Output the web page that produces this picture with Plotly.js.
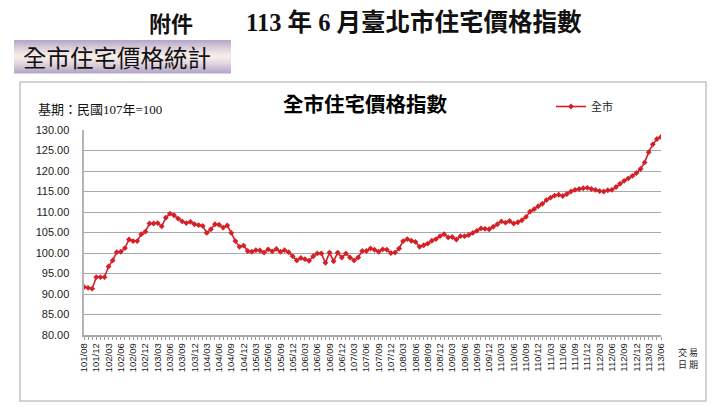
<!DOCTYPE html>
<html>
<head>
<meta charset="utf-8">
<script src="https://cdn.plot.ly/plotly-3.0.1.min.js"></script>
<style>
html,body{margin:0;padding:0;background:#fff;}
#chart{width:722px;height:408px;}
</style>
</head>
<body>
<div id="chart"></div>
<script>
// Categories (transaction month, ROC year/month)
const months = [
  "101/08","101/10","101/11","101/12",
  "102/01","102/02","102/03","102/04","102/05","102/06","102/07","102/08","102/09","102/10","102/11","102/12",
  "103/01","103/02","103/03","103/04","103/05","103/06","103/07","103/08","103/09","103/10","103/11","103/12",
  "104/01","104/02","104/03","104/04","104/05","104/06","104/07","104/08","104/09","104/10","104/11","104/12",
  "105/01","105/02","105/03","105/04","105/05","105/06","105/07","105/08","105/09","105/10","105/11","105/12",
  "106/01","106/02","106/03","106/04","106/05","106/06","106/07","106/08","106/09","106/10","106/11","106/12",
  "107/01","107/02","107/03","107/04","107/05","107/06","107/07","107/08","107/09","107/10","107/11","107/12",
  "108/01","108/02","108/03","108/04","108/05","108/06","108/07","108/08","108/09","108/10","108/11","108/12",
  "109/01","109/02","109/03","109/04","109/05","109/06","109/07","109/08","109/09","109/10","109/11","109/12",
  "110/01","110/02","110/03","110/04","110/05","110/06","110/07","110/08","110/09","110/10","110/11","110/12",
  "111/01","111/02","111/03","111/04","111/05","111/06","111/07","111/08","111/09","111/10","111/11","111/12",
  "112/01","112/02","112/03","112/04","112/05","112/06","112/07","112/08","112/09","112/10","112/11","112/12",
  "113/01","113/02","113/03","113/04","113/05","113/06"
];

// Series: 全市 housing price index (base 107 = 100)
const cityIndex = [
  91.7,91.5,91.3,94.1,94.1,94.1,96.7,98.2,100.2,100.3,
  101.2,103.3,102.9,102.9,104.6,105.2,107.2,107.2,107.3,106.5,
  108.6,109.6,109.2,108.4,107.7,107.3,107.6,107.0,106.8,106.6,
  104.9,105.8,107.0,106.9,106.2,106.7,104.9,102.9,101.5,101.8,
  100.5,100.3,100.7,100.6,100.1,100.9,100.4,101.0,100.3,100.7,
  100.2,99.2,98.2,98.8,98.5,98.1,99.2,99.9,99.9,97.6,
  100.1,98.0,100.1,98.9,99.9,98.9,98.2,98.9,100.5,100.5,
  101.1,100.8,100.3,100.9,100.8,100.0,100.1,101.1,102.9,103.4,
  103.0,102.7,101.5,101.9,102.3,103.0,103.4,104.1,104.6,103.8,
  103.9,103.3,104.1,104.1,104.4,104.9,105.4,106.0,105.9,105.8,
  106.4,107.0,107.7,107.4,107.8,107.2,107.5,108.0,108.8,110.1,
  110.7,111.4,112.0,112.9,113.5,114.0,114.2,113.9,114.4,115.0,
  115.4,115.6,115.8,115.9,115.6,115.4,115.1,115.0,115.3,115.4,
  116.1,116.9,117.6,118.2,118.8,119.5,120.5,122.1,124.6,126.5,
  127.8,128.3
];

// Tick labels shown on the x axis
const tickLabels = [
  "101/08","101/12",
  "102/03","102/06","102/09","102/12",
  "103/03","103/06","103/09","103/12",
  "104/03","104/06","104/09","104/12",
  "105/03","105/06","105/09","105/12",
  "106/03","106/06","106/09","106/12",
  "107/03","107/06","107/09","107/12",
  "108/03","108/06","108/09","108/12",
  "109/03","109/06","109/09","109/12",
  "110/03","110/06","110/09","110/12",
  "111/03","111/06","111/09","111/12",
  "112/03","112/06","112/09","112/12",
  "113/03","113/06"
];

const yTicks = [80,85,90,95,100,105,110,115,120,125,130];

// pixel -> paper helpers
const PL = 84, PR = 661, PT = 130, PB = 335, W = 722, H = 408;
const px = X => (X - PL) / (PR - PL);
const py = Y => (PB - Y) / (PB - PT);

const serif = '"Liberation Serif","Noto Sans CJK TC",serif';
const cjk = '"Noto Sans CJK TC","Liberation Serif",serif';
const sans = '"Liberation Sans",Arial,sans-serif';

// gradient title box as bands
const shapes = [];
const bx0 = 14, bx1 = 231, by0 = 40, by1 = 73, nb = 22;
const cTop = [178,164,200], cMid = [246,236,232];
for (let k = 0; k < nb; k++) {
  const t = (k + 0.5) / nb;
  const d = Math.abs(t - 0.5) * 2; // 0 mid, 1 edges
  const c = cTop.map((v, j) => Math.round(cMid[j] + (v - cMid[j]) * Math.pow(d, 1.3)));
  const yA = by0 + (by1 - by0) * k / nb, yB = by0 + (by1 - by0) * (k + 1) / nb + 0.6;
  shapes.push({type:'rect', xref:'paper', yref:'paper', x0:px(bx0), x1:px(bx1), y0:py(yB), y1:py(yA),
    line:{width:0}, fillcolor:`rgb(${c[0]},${c[1]},${c[2]})`, layer:'below'});
}
// chart frame
shapes.push({type:'rect', xref:'paper', yref:'paper', x0:px(20), x1:px(706), y0:py(401), y1:py(82),
  line:{color:'#c4c4c4', width:1.5}, fillcolor:'rgba(0,0,0,0)', layer:'below'});

const annotations = [
  {text:'附件', x:px(147), y:py(22), xanchor:'left', yanchor:'middle', font:{family:cjk, size:22, color:'#111', weight:'bold'}},
  {text:'113 年 6 月臺北市住宅價格指數', x:px(244), y:py(22), xanchor:'left', yanchor:'middle', font:{family:serif, size:24.5, color:'#111', weight:'bold'}},
  {text:'全市住宅價格統計', x:px(117), y:py(57), xanchor:'center', yanchor:'middle', font:{family:cjk, size:23.5, color:'#111'}},
  {text:'全市住宅價格指數', x:px(365), y:py(103), xanchor:'center', yanchor:'middle', font:{family:cjk, size:20.5, color:'#000', weight:'bold'}},
  {text:'基期：民國107年=100', x:px(36), y:py(110), xanchor:'left', yanchor:'middle', font:{family:serif, size:13, color:'#111'}},
  {text:'交 易<br>日 期', x:px(688), y:py(358), xanchor:'center', yanchor:'middle', align:'center', font:{family:cjk, size:9, color:'#222'}}
].map(a => Object.assign({xref:'paper', yref:'paper', showarrow:false}, a));

const trace = {
  type:'scatter', mode:'lines+markers', name:'全市',
  x: months, y: cityIndex,
  line:{color:'#d42027', width:1.6},
  marker:{symbol:'diamond', size:4.5, color:'#d42027'}
};

const layout = {
  width: W, height: H,
  margin:{l:PL, r:W-PR, t:PT, b:H-PB, pad:0},
  paper_bgcolor:'#fff', plot_bgcolor:'#fff',
  showlegend:true,
  legend:{x:px(551), y:py(92), xanchor:'left', yanchor:'top', bgcolor:'rgba(0,0,0,0)',
    font:{family:cjk, size:11, color:'#222'}, itemwidth:30, tracegroupgap:0},
  xaxis:{
    type:'category', categoryorder:'array', categoryarray: months,
    range:[0, months.length - 1],
    tickmode:'array', tickvals: months,
    ticktext: months.map(m => tickLabels.includes(m) ? m : ''),
    tickangle:-90, ticks:'outside', ticklen:3, tickcolor:'#9a9a9a', tickwidth:1,
    showline:true, linecolor:'#a8a8a8', linewidth:1.5,
    showgrid:false, zeroline:false,
    tickfont:{family:sans, size:9.5, color:'#222'}
  },
  yaxis:{
    range:[80,130], tickmode:'array', tickvals: yTicks,
    ticktext: yTicks.map(v => v.toFixed(2)),
    showgrid:true, gridcolor:'#a8a8a8', gridwidth:1,
    showline:true, linecolor:'#b4b4b4', linewidth:2.5,
    zeroline:false, ticks:'', ticklabelstandoff:10,
    tickfont:{family:sans, size:11, color:'#222'}
  },
  shapes: shapes,
  annotations: annotations
};

Plotly.newPlot('chart', [trace], layout, {displayModeBar:false, staticPlot:true});
</script>
</body>
</html>
